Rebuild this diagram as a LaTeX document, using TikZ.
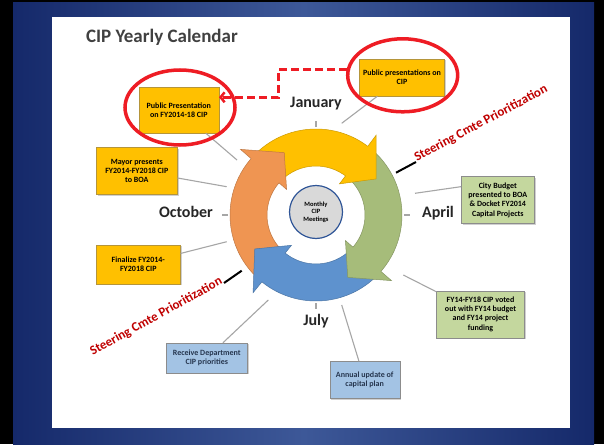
\documentclass[tikz,border=0pt]{standalone}
\usepackage{fontspec}
\setmainfont{Carlito}
\usetikzlibrary{shapes,arrows,arrows.meta,shadows}
\definecolor{navydark}{HTML}{15296A}
\definecolor{navylight}{HTML}{3D5898}
\definecolor{boxgold}{HTML}{FFC000}
\definecolor{goldedge}{HTML}{B5953A}
\definecolor{boxgreen}{HTML}{C4D79E}
\definecolor{boxblue}{HTML}{A3C3E4}
\definecolor{bluetext}{HTML}{26364F}
\definecolor{ringyellow}{HTML}{FFC000}
\definecolor{ringgreen}{HTML}{A6BC7A}
\definecolor{ringblue}{HTML}{5E92CE}
\definecolor{ringorange}{HTML}{EF9552}
\definecolor{hubgrey}{HTML}{D9D9D9}
\definecolor{hubedge}{HTML}{2F5597}
\definecolor{steerred}{HTML}{C00000}
\definecolor{ovalred}{HTML}{EE1C24}
\definecolor{leadgrey}{HTML}{A6A6A6}
\definecolor{monthgrey}{HTML}{262626}
\tikzstyle{leader} = [draw=leadgrey, line width=1.1pt]
\tikzstyle{marker} = [draw=black, line width=2pt]
\tikzstyle{redlink} = [draw=ovalred, line width=2.5pt, dash pattern=on 8pt off 4pt, -{Straight Barb[length=4pt,width=10pt]}]
\tikzset{
    box/.style = {draw, rectangle, align=center, inner sep=2pt, font=\bfseries\fontsize{8}{9.3}\selectfont,
        drop shadow={shadow xshift=1.2pt, shadow yshift=-1.2pt, opacity=0.3, fill=black!60}},
    goldbox/.style = {box, fill=boxgold, draw=goldedge},
    greenbox/.style = {box, fill=boxgreen, draw=black!45},
    bluebox/.style = {box, fill=boxblue, draw=black!45, text=bluetext},
    month/.style = {font=\bfseries\fontsize{16}{18}\selectfont, text=monthgrey},
    steer/.style = {font=\bfseries\fontsize{13}{15}\selectfont, text=steerred, inner sep=1pt},
    redoval/.style = {draw=ovalred, ellipse, line width=3.5pt},
    hub/.style = {circle, draw=hubedge, fill=hubgrey, line width=1.2pt, minimum size=53pt, inner sep=0pt,
        align=center, font=\bfseries\fontsize{6.5}{7.5}\selectfont},
}

\begin{document}
\begin{tikzpicture}[x=1pt, y=-1pt]
    \useasboundingbox (0,0) rectangle (604,444);
    % frame
    \fill[black] (0,0) rectangle (604,444);
    \shade[left color=navydark, right color=navydark, middle color=navylight] (13,3) rectangle (594,444);
    \fill[white] (52,17) rectangle (570,428);

    \node[anchor=base west, text=black!75, font=\bfseries\fontsize{19}{22}\selectfont] (title) at (82.5,42.7) {CIP Yearly Calendar};

    % cycle of arrows
    \begin{scope}[shift={(316,215)}, yscale=-1]
        \foreach \col/\t/\b in {ringyellow/136/50, ringgreen/50/-44, ringblue/-44/-132, ringorange/-132/-224}
            \filldraw[fill=\col, draw=\col!80!black, line width=0.5pt] (\t:49) arc[start angle=\t, end angle=\b, radius=49]
                -- (\b:86) arc[start angle=\b, end angle=\t, radius=86] -- cycle;
        \foreach \col/\b/\p in {ringyellow/53/31, ringgreen/-41/-63, ringblue/-129/-151, ringorange/-221/-243} {
            \fill[\col] (\b:49) -- (\b:39) -- (\p:70) -- (\b:100) -- (\b:86) -- cycle;
            \draw[\col!80!black, line width=0.5pt] (\b:49) -- (\b:39) -- (\p:70) -- (\b:100) -- (\b:86);
        }
        \foreach \a in {0,90,180,270}
            \draw[leader] (\a:88) -- (\a:94);
    \end{scope}
    \node[hub] (hub) at (316,212) {Monthly\\CIP\\Meetings};

    % months
    \node[month] (jan) at (316,104) {January};
    \node[month] (oct) at (186,212) {October};
    \node[month] (apr) at (438,213) {April};
    \node[month] (jul) at (316,321) {July};

    % boxes
    \node[goldbox, minimum width=80pt, minimum height=46pt] (pubpres) at (178.8,110) {Public Presentation\\on FY2014-18 CIP};
    \node[goldbox, minimum width=85pt, minimum height=37pt] (pubcip) at (402,77.5) {Public presentations on\\CIP};
    \node[goldbox, minimum width=81pt, minimum height=47pt] (mayor) at (136.8,170.8) {Mayor presents\\FY2014-FY2018 CIP\\to BOA};
    \node[goldbox, minimum width=84pt, minimum height=39pt] (finalize) at (138.3,264.2) {Finalize FY2014-\\FY2018 CIP};
    \node[greenbox, minimum width=73pt, minimum height=47pt] (citybud) at (497.8,200) {City Budget\\presented to BOA\\\& Docket FY2014\\Capital Projects};
    \node[greenbox, minimum width=88pt, minimum height=47pt] (voted) at (480.5,314.2) {FY14-FY18 CIP voted\\out with FY14 budget\\and FY14 project\\funding};
    \node[bluebox, minimum width=81pt, minimum height=30pt] (recdept) at (206.8,358) {Receive Department\\CIP priorities};
    \node[bluebox, minimum width=70pt, minimum height=37pt] (annual) at (364.7,380) {Annual update of\\capital plan};

    % leader lines
    \coordinate (lead-pubpres) at (237,160);
    \coordinate (lead-mayor) at (226.7,186.7);
    \coordinate (lead-final) at (226.7,241.7);
    \coordinate (lead-pubcip) at (341.7,123.3);
    \coordinate (lead-citybud) at (415,193.3);
    \coordinate (lead-voted) at (403.3,275);
    \coordinate (lead-recdept) at (268.3,300);
    \coordinate (lead-annual) at (341.7,305);
    \draw[leader] (lead-pubpres) -- (pubpres);
    \draw[leader] (lead-mayor) -- (mayor);
    \draw[leader] (lead-final) -- (finalize);
    \draw[leader] (lead-pubcip) -- (pubcip);
    \draw[leader] (lead-citybud) -- (citybud.160);
    \draw[leader] (lead-voted) -- (voted);
    \draw[leader] (lead-recdept) -- (recdept);
    \draw[leader] (lead-annual) -- (annual);

    % steering committee
    \node[steer, rotate=28, anchor=base west] (steer-up) at (416,162) {Steering Cmte Prioritization};
    \node[steer, rotate=29, anchor=base east] (steer-low) at (224,283) {Steering Cmte Prioritization};
    \coordinate (tick-up) at (396,172.7);
    \coordinate (tick-low) at (241.7,270.7);
    \draw[marker] (tick-up) -- (steer-up.base west);
    \draw[marker] (steer-low.base east) -- (tick-low);

    % highlights
    \node[redoval, minimum width=110pt, minimum height=75pt] (oval-pubpres) at (180,107.5) {};
    \node[redoval, minimum width=110pt, minimum height=73pt] (oval-pubcip) at (402.7,75.3) {};
    \coordinate (bend) at (278.3,97.3);
    \draw[redlink] (oval-pubcip.174) -| (bend) -- (pubpres.east |- bend);
\end{tikzpicture}
\end{document}
